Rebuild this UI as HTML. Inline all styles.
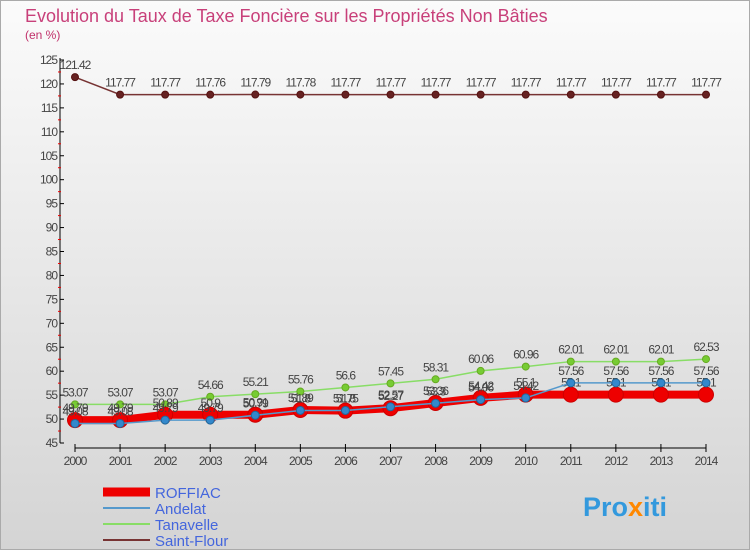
<!DOCTYPE html>
<html><head><meta charset="utf-8"><style>
body{margin:0;}
#wrap{width:750px;height:550px;position:relative;overflow:hidden;background:linear-gradient(#fbfbfb,#d4d4d4);font-family:"Liberation Sans",sans-serif;}
</style></head><body>
<div id="wrap">
<svg id="svg" width="750" height="550" xmlns="http://www.w3.org/2000/svg">
<rect x="0.5" y="0.5" width="749" height="549" fill="none" stroke="#aaa"/>
<text x="25" y="22" font-size="18" fill="#c8407a">Evolution du Taux de Taxe Foncière sur les Propriétés Non Bâties</text>
<text x="25" y="39" font-size="12" fill="#c0306a">(en %)</text>
<g id="axes"></g><g id="series"></g>
<g>
<line x1="103" y1="492" x2="150" y2="492" stroke="#e00" stroke-width="9"/>
<text x="155" y="498" font-size="15" fill="#4466dd">ROFFIAC</text>
<line x1="103" y1="508" x2="150" y2="508" stroke="#5599cc" stroke-width="2"/>
<text x="155" y="514" font-size="15" fill="#4466dd">Andelat</text>
<line x1="103" y1="524" x2="150" y2="524" stroke="#88dd66" stroke-width="2"/>
<text x="155" y="530" font-size="15" fill="#4466dd">Tanavelle</text>
<line x1="103" y1="540" x2="150" y2="540" stroke="#773333" stroke-width="2"/>
<text x="155" y="546" font-size="15" fill="#4466dd">Saint-Flour</text>
</g>
<text x="583" y="516" font-size="27" font-weight="bold" fill="#3399dd">Pro<tspan fill="#ff8800">x</tspan>iti</text>
</svg>
</div>
<script>
const years=[2000,2001,2002,2003,2004,2005,2006,2007,2008,2009,2010,2011,2012,2013,2014];
const yTicks=[45,50,55,60,65,70,75,80,85,90,95,100,105,110,115,120,125];
const roffiac=[49.79,49.79,50.89,50.9,50.91,51.89,51.75,52.27,53.36,54.42,55.1,55.1,55.1,55.1,55.1];
const andelat=[49.08,49.08,49.79,49.79,50.79,51.8,51.8,52.57,53.3,54.06,54.42,57.56,57.56,57.56,57.56];
const tanavelle=[53.07,53.07,53.07,54.66,55.21,55.76,56.6,57.45,58.31,60.06,60.96,62.01,62.01,62.01,62.53];
const saintFlour=[121.42,117.77,117.77,117.76,117.79,117.78,117.77,117.77,117.77,117.77,117.77,117.77,117.77,117.77,117.77];
const NS="http://www.w3.org/2000/svg";
const xs=i=>75+i*(706-75)/(years.length-1);
const ys=v=>443-(v-45)*(443-60)/80;
function mk(t,a,p){const e=document.createElementNS(NS,t);for(const k in a)e.setAttribute(k,a[k]);p.appendChild(e);return e;}
const ax=document.getElementById('axes');
let l=mk('line',{x1:60,y1:58,x2:60,y2:443,stroke:'#000'},ax);


yTicks.forEach(v=>{
 const y=ys(v);
 mk('line',{x1:60,y1:y,x2:64,y2:y,stroke:'#000'},ax);
 if(v<125) mk('line',{x1:58,y1:ys(v+2.5),x2:61,y2:ys(v+2.5),stroke:'#e00'},ax);
 const t=mk('text',{x:57,y:y+4,'font-size':12,'text-anchor':'end',fill:'#444','letter-spacing':'-1'},ax);
 t.textContent=v;
 
 
});
l=mk('line',{x1:75,y1:448,x2:706,y2:448,stroke:'#000'},ax);


years.forEach((yr,i)=>{
 mk('line',{x1:xs(i),y1:444,x2:xs(i),y2:452,stroke:'#000'},ax);
 const t=mk('text',{x:xs(i),y:465,'font-size':12,'text-anchor':'middle',fill:'#444','letter-spacing':'-1'},ax);
 t.textContent=yr;
 
 
});
const sg=document.getElementById('series');
function series(vals,name,color,w,r,dotFill,dotStroke,labelOff){
 const g=mk('g',{},sg);
 
 
 const p=mk('polyline',{points:vals.map((v,i)=>xs(i)+','+ys(v)).join(' '),fill:'none',stroke:color,'stroke-width':w},g);
 
 
 vals.forEach((v,i)=>{
  const c=mk('circle',{cx:xs(i),cy:ys(v),r:r,fill:dotFill,stroke:dotStroke},g);
  
  
  const t=mk('text',{x:xs(i),y:ys(v)+labelOff,'font-size':12,'text-anchor':'middle',fill:'#444','letter-spacing':'-1'},g);
  t.textContent=v;
  
  
 });
}
series(saintFlour,'saint-flour','#773333',1.5,3.5,'#662222','#551111',-8);
series(tanavelle,'tanavelle','#88dd66',1.5,3.5,'#77cc33','#66aa22',-8);
series(roffiac,'roffiac','#ee0000',8,7.5,'#ee0000','#cc0000',-8);
series(andelat,'andelat','#5599cc',1.5,4,'#3388cc','#226699',-8);
</script>
</body></html>
